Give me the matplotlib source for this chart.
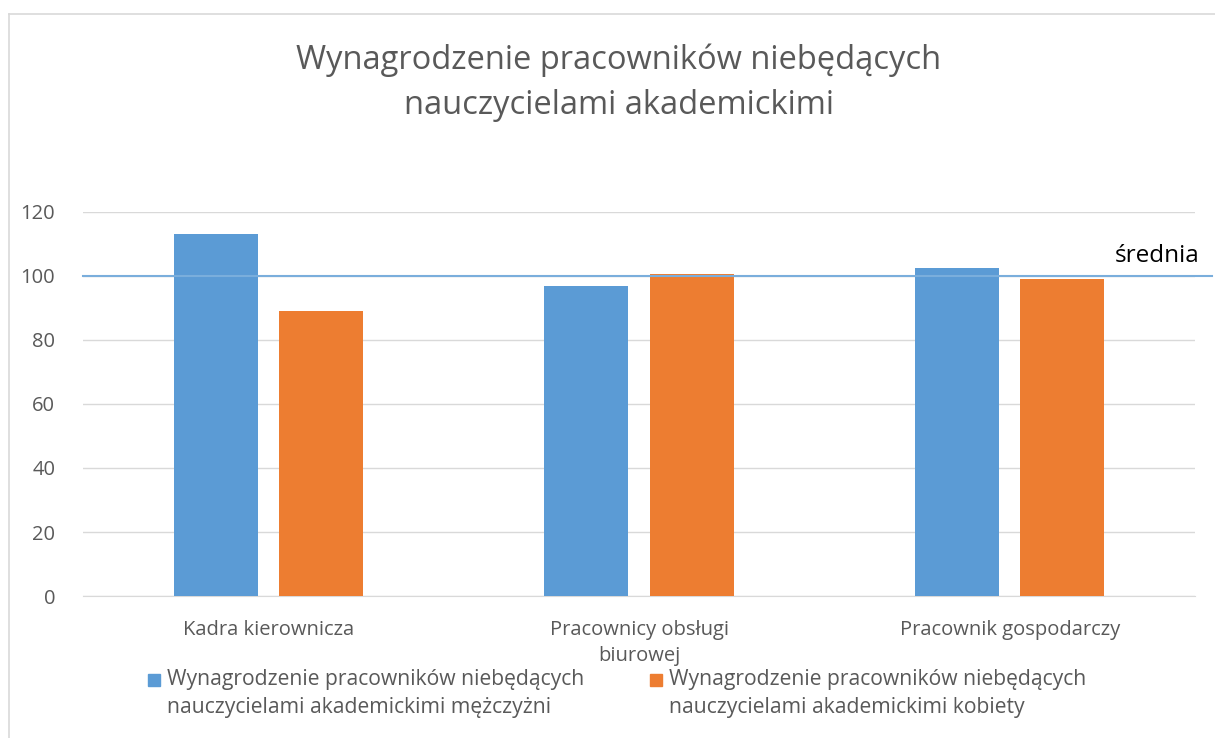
import matplotlib
matplotlib.use("Agg")
import matplotlib.pyplot as plt
from matplotlib.patches import Rectangle
from matplotlib.lines import Line2D
import numpy as np

categories = ["Kadra kierownicza", "Pracownicy obsługi\nbiurowej", "Pracownik gospodarczy"]
men = [113.0, 96.9, 102.5]
women = [89.2, 100.5, 99.1]
average = 100
yticks = [0, 20, 40, 60, 80, 100, 120]
series_names = ["Wynagrodzenie pracowników niebędących\nnauczycielami akademickimi mężczyżni",
                "Wynagrodzenie pracowników niebędących\nnauczycielami akademickimi kobiety"]
title = "Wynagrodzenie pracowników niebędących\nnauczycielami akademickimi"

plt.rcParams['font.family'] = ['Open Sans', 'DejaVu Sans']
gray = "#595959"
blue = "#5b9bd5"
orange = "#ed7d31"
colors = [blue, orange]

W, H = 1215, 738
fig = plt.figure(figsize=(W/100, H/100), dpi=100)
ax = fig.add_axes([83/W, 1-596/H, (1195-83)/W, (596-212)/H])

x = np.arange(len(categories))
bw = 0.227
off = 0.142
ax.bar(x - off, men, bw, color=blue, zorder=3)
ax.bar(x + off, women, bw, color=orange, zorder=3)

ax.set_xlim(-0.5, 2.5)
ax.set_ylim(0, 120)
ax.set_yticks(yticks)
ax.set_yticklabels([str(t) for t in yticks], fontsize=14.5, color=gray)
ax.set_xticks(x)
ax.set_xticklabels(categories, fontsize=14.5, color=gray, linespacing=1.4)
ax.tick_params(axis='both', length=0)
ax.tick_params(axis='y', pad=20)
ax.tick_params(axis='x', pad=17)
ax.grid(axis='y', color='#d9d9d9', linewidth=1, zorder=0)
for s in ['top', 'right', 'left']:
    ax.spines[s].set_visible(False)
ax.spines['bottom'].set_color('#d9d9d9')

ax.axhline(average, xmin=0, xmax=(1212-83)/(1195-83), color='#7aaedc', linewidth=1.5, clip_on=False, zorder=4)
fig.text(1200/W, 1-256/H, "średnia", fontsize=17.5, color='black', ha='right', va='center')

fig.text(619/W, 1-83/H, title, fontsize=23.5, color=gray, ha='center', va='center', linespacing=1.5)

# legend (custom layout, entries from series_names)
leg_x = [148, 650]
for i, name in enumerate(series_names):
    fig.add_artist(Rectangle((leg_x[i]/W, 1-686/H), 12/W, 12/H, color=colors[i], transform=fig.transFigure))
    fig.text((leg_x[i]+19)/W, 1-669/H, name, fontsize=15.2, color=gray, ha='left', va='top',
             linespacing=1.45)

fig.add_artist(Line2D([9/W, 9/W], [0, 1-14/H], color='#d9d9d9', linewidth=1.2))
fig.add_artist(Line2D([9/W, 1], [1-14/H, 1-14/H], color='#d9d9d9', linewidth=1.2))

fig.savefig("out.png", dpi=100)
